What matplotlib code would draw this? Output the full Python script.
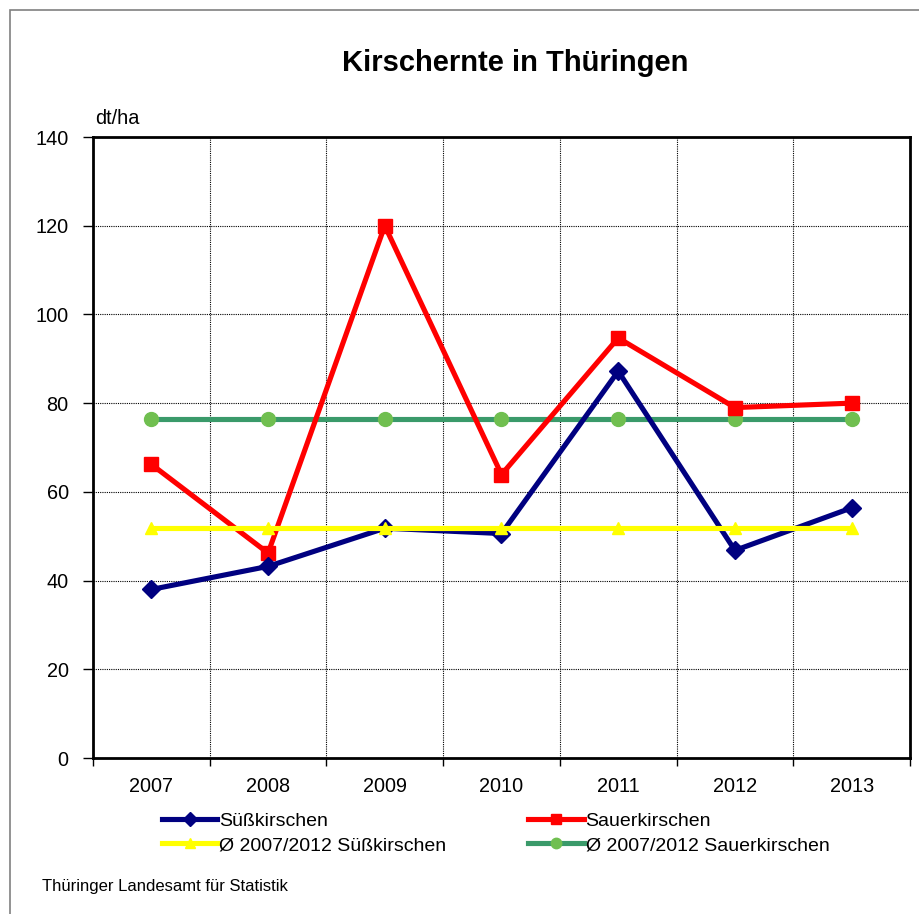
import matplotlib
matplotlib.use("Agg")
import matplotlib.pyplot as plt
from matplotlib.patches import Rectangle

plt.rcParams['font.family'] = ['Liberation Sans', 'DejaVu Sans']

years = ['2007', '2008', '2009', '2010', '2011', '2012', '2013']
suess = [38.0, 43.2, 51.8, 50.6, 87.2, 46.8, 56.4]
sauer = [66.2, 46.2, 120.0, 63.9, 94.7, 79.0, 80.0]
avg_suess = [51.8] * 7
avg_sauer = [76.4] * 7

fig = plt.figure(figsize=(9.2, 9.14), dpi=100)
fig.patches.append(Rectangle((10 / 920, -0.1), 1.2, 1 - 10 / 914 + 0.1,
                             transform=fig.transFigure, fill=False,
                             edgecolor='#808080', linewidth=1.2, zorder=0))

ax = fig.add_axes([93 / 920, 1 - 758 / 914, 817 / 920, 621 / 914])
x = range(len(years))

l1, = ax.plot(x, suess, color='#000080', lw=3.7, marker='D', ms=9,
              label='Süßkirschen', zorder=4)
l2, = ax.plot(x, sauer, color='#FF0000', lw=3.7, marker='s', ms=10,
              label='Sauerkirschen', zorder=3)
l3, = ax.plot(x, avg_suess, color='#FFFF00', lw=3.7, marker='^', ms=9,
              label='Ø 2007/2012 Süßkirschen', zorder=5)
l4, = ax.plot(x, avg_sauer, color='#3A9A6A', lw=3.7, marker='o', ms=10,
              mfc='#70BF50', mec='#70BF50', label='Ø 2007/2012 Sauerkirschen',
              zorder=2)

ax.set_xlim(-0.5, 6.5)
ax.set_ylim(0, 140)
ax.set_yticks(range(0, 141, 20))
ax.set_xticks(x)
ax.set_xticklabels(years)
ax.set_xticks([i + 0.5 for i in range(-1, 7)], minor=True)
ax.tick_params(axis='x', which='major', length=0, pad=14, labelsize=14.3)
ax.tick_params(axis='x', which='minor', length=6, width=1)
ax.tick_params(axis='y', length=7, width=1, pad=10.5, labelsize=14.3)
ax.grid(axis='y', which='major', color='black', ls=(0, (1, 1)), lw=0.8)
ax.grid(axis='x', which='minor', color='black', ls=(0, (1, 1)), lw=0.8)
for s in ax.spines.values():
    s.set_linewidth(2)

fig.text(515 / 920, 1 - 63 / 914, 'Kirschernte in Thüringen', ha='center',
         va='center', fontsize=21, fontweight='bold')
fig.text(95 / 920, 1 - 118 / 914, 'dt/ha', ha='left', va='center', fontsize=14.3)
fig.text(42 / 920, 1 - 886 / 914, 'Thüringer Landesamt für Statistik',
         ha='left', va='center', fontsize=12)

fig.legend([l1, l3, l2, l4], [h.get_label() for h in [l1, l3, l2, l4]],
           ncol=2, loc='upper left', bbox_to_anchor=(162 / 920, 1 - 812 / 914),
           frameon=False, fontsize=14, handlelength=2.85, handletextpad=0.1,
           columnspacing=4.2, borderpad=0, borderaxespad=0, labelspacing=0.35,
           markerscale=0.75)

fig.savefig('out.png', dpi=100)
